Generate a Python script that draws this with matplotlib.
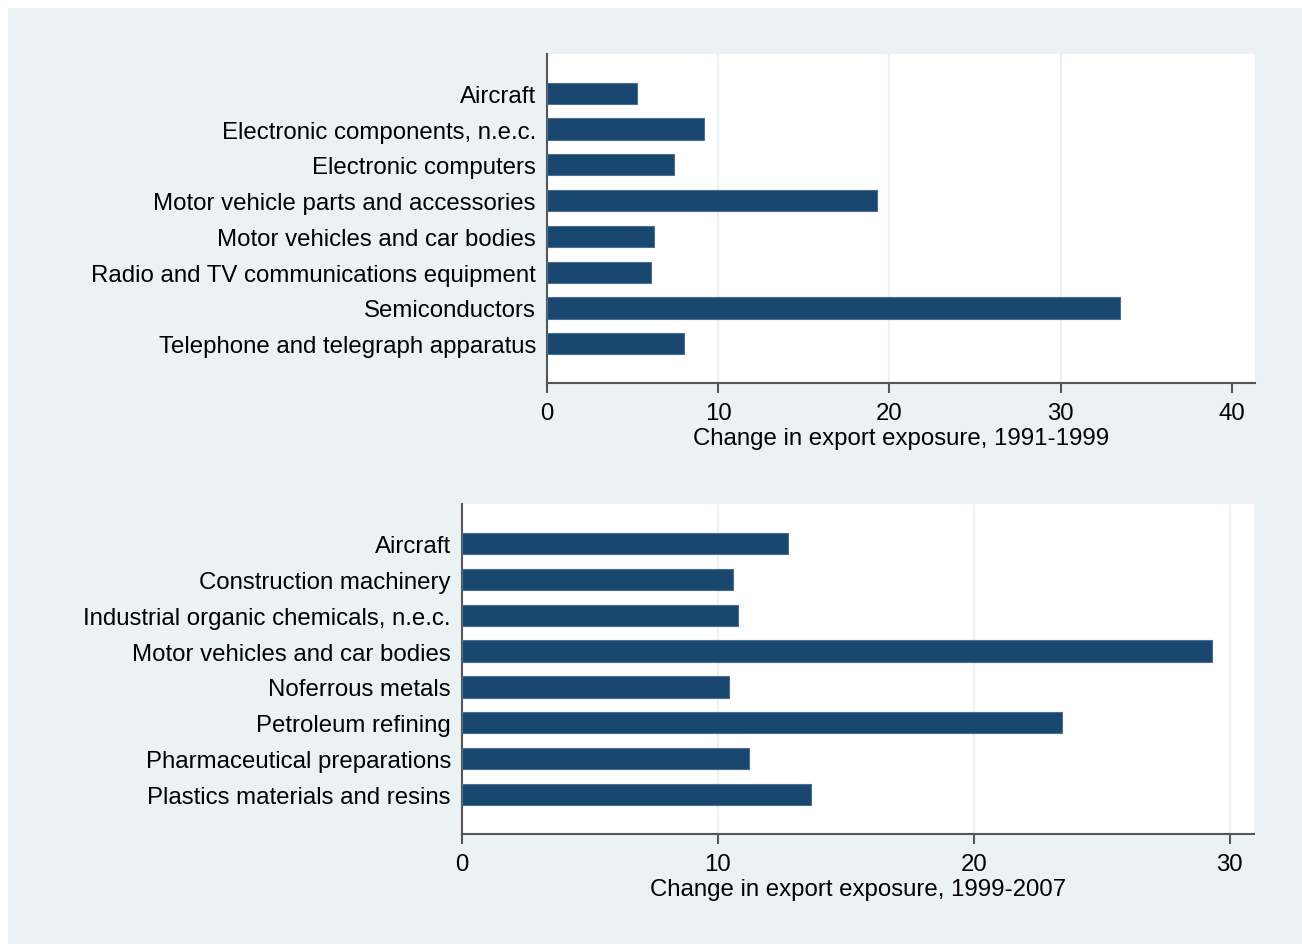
import matplotlib
matplotlib.use("Agg")
import matplotlib.pyplot as plt
from matplotlib.patches import Rectangle

# industries and changes in export exposure
inds_a = ["Aircraft", "Electronic components, n.e.c.", "Electronic computers",
          "Motor vehicle parts and accessories", "Motor vehicles and car bodies",
          "Radio and TV communications equipment", "Semiconductors",
          "Telephone and telegraph apparatus"]
vals_a = [5.25, 9.15, 7.4, 19.3, 6.25, 6.1, 33.45, 8.0]
ticks_a = [0, 10, 20, 30, 40]

inds_b = ["Aircraft", "Construction machinery", "Industrial organic chemicals, n.e.c.",
          "Motor vehicles and car bodies", "Noferrous metals", "Petroleum refining",
          "Pharmaceutical preparations", "Plastics materials and resins"]
vals_b = [12.75, 10.6, 10.8, 29.3, 10.45, 23.45, 11.2, 13.65]
ticks_b = [0, 10, 20, 30]

BAR = "#1A476F"
BG = "#EAF2F3"
AXC = "#555555"

plt.rcParams['font.family'] = ['Liberation Sans', 'DejaVu Sans']

W, H = 1302, 945
fig = plt.figure(figsize=(W / 100, H / 100), dpi=100)
fig.patch.set_facecolor("white")
fig.patches.append(Rectangle((8 / W, 0), 1 - 8 / W, 1 - 9 / H,
                             transform=fig.transFigure, facecolor=BG,
                             edgecolor="none", zorder=-10))


def panel(rect, inds, vals, ticks, xmax, xlabel, nogrid):
    ax = fig.add_axes(rect)
    ax.set_facecolor("white")
    ypos = list(range(len(inds)))
    ax.barh(ypos, vals, height=0.59, color=BAR, edgecolor="#4d6e8e",
            linewidth=0.8, zorder=3)
    ax.set_yticks(ypos)
    ax.set_yticklabels(inds)
    ax.set_ylim(len(inds) - 1 + 1.095, -1.095)
    ax.set_xlim(0, xmax)
    ax.set_xticks(ticks)
    ax.set_xticklabels([str(t) for t in ticks])
    ax.grid(axis="x", color=BG, linewidth=1.6, zorder=0)
    for line, t in zip(ax.get_xgridlines(), ticks):
        if t in nogrid:
            line.set_visible(False)
    for s in ["top", "right"]:
        ax.spines[s].set_visible(False)
    for s in ["left", "bottom"]:
        ax.spines[s].set_color(AXC)
        ax.spines[s].set_linewidth(1.5)
    ax.tick_params(axis="y", length=0, pad=8, labelsize=17.3)
    ax.tick_params(axis="x", length=7, width=1.5, color=AXC, pad=7, labelsize=17.3)
    ax.set_xlabel(xlabel, fontsize=17.3, labelpad=2)
    return ax


panel([547 / W, 1 - 384 / H, (1255 - 547) / W, (384 - 55) / H],
      inds_a, vals_a, ticks_a, 41.35,
      "Change in export exposure, 1991-1999", (0, 40))
panel([462 / W, 1 - 835 / H, (1254 - 462) / W, (835 - 505) / H],
      inds_b, vals_b, ticks_b, 30.95,
      "Change in export exposure, 1999-2007", (0,))

fig.savefig("out.png", dpi=100)
